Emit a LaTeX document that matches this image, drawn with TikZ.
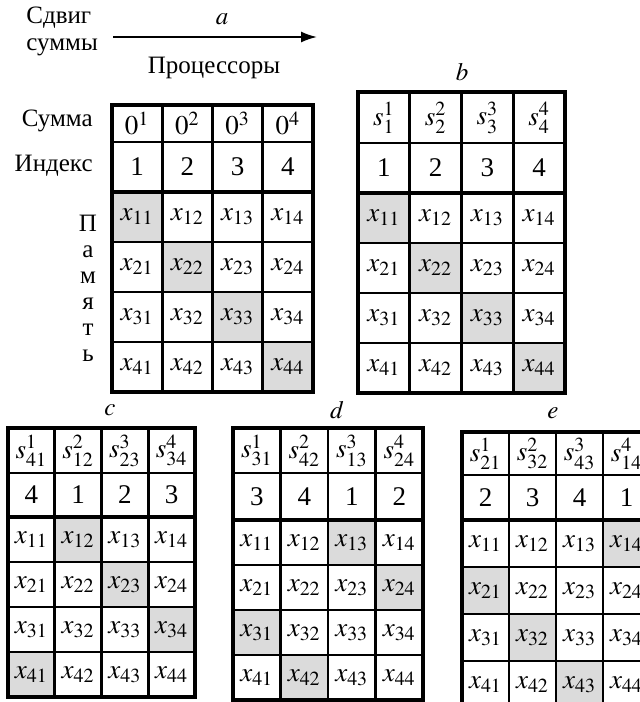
\documentclass[tikz,border=0pt]{standalone}
\usepackage{mathptmx}
\usepackage{fontspec}
\setmainfont{Liberation Serif}
\usetikzlibrary{positioning,arrows.meta}
\definecolor{Dots}{gray}{0.86}

\tikzset{
  cell/.style={rectangle, inner sep=0pt, outer sep=0pt, font=\fontsize{13.5}{15}\selectfont},
  outline/.style={line width=2pt, line join=miter},
  divide/.style={line width=1.8pt},
  vline/.style={line width=1.3pt},
  hline/.style={line width=0.9pt},
  tag/.style={inner sep=1pt, font=\fontsize{12.5}{14}\selectfont},
}

% name, left, top, column width, sum height, index height, memory height, shift, sums
\newcommand{\panel}[9]{%
  \foreach \hd [count=\col] in {#9} {
    \pgfmathsetmacro\cx{#2+(\col-0.5)*#4}
    \pgfmathtruncatemacro\ix{mod(\col-1-#8+8,4)+1}
    \node[cell, fill=white, minimum width=#4*0.5pt, minimum height=#5*0.5pt] (#1-s\col) at (\cx,{#3+#5/2}) {$\hd$};
    \node[cell, fill=white, minimum width=#4*0.5pt, minimum height=#6*0.5pt] (#1-i\col) at (\cx,{#3+#5+#6/2}) {\ix};
    \foreach \row in {1,...,4} {
      \pgfmathtruncatemacro\hit{mod(\col-\row-#8+8,4)==0}
      \ifnum\hit=1 \def\fc{Dots}\else\def\fc{white}\fi
      \node[cell, fill=\fc, minimum width=#4*0.5pt, minimum height=#7*0.5pt] (#1-\row\col) at (\cx,{#3+#5+#6+(\row-0.5)*#7}) {$x_{\row\col}$};
    }
  }
  \draw[hline] (#1-s1.south west) -- (#1-s4.south east);
  \foreach \row in {1,2,3} \draw[hline] (#1-\row1.south west) -- (#1-\row4.south east);
  \foreach \col in {1,2,3} \draw[vline] (#1-s\col.north east) -- (#1-4\col.south east);
  \draw[divide] (#1-i1.south west) -- (#1-i4.south east);
  \draw[outline] (#1-s1.north west) rectangle (#1-44.south east);
}

\begin{document}
\begin{tikzpicture}[x=0.5pt, y=-0.5pt]
\useasboundingbox (0,0) rectangle (640,702);
\clip (0,0) rectangle (640,702);

% header of panel a
\node[tag, anchor=west] (shift) at (24,18) {Сдвиг};
\node[tag, anchor=west] (sums) at (24,47) {суммы};
\coordinate (arL) at (113,37);
\coordinate (arR) at (317,37);
\draw[line width=0.9pt, -{Latex[length=8pt, width=5.5pt]}] (arL) -- (arR);
\node[tag] (la) at (222,19) {$a$};
\node[tag] (procs) at (214,68) {Процессоры};
\node[tag, anchor=east] (sumlab) at (95,121) {Сумма};
\node[tag, anchor=east] (idxlab) at (95,166) {Индекс};
\node[tag, align=center, font=\fontsize{12.5}{13}\selectfont] (memlab) at (88,288) {П\\а\\м\\я\\т\\ь};

% panel labels
\node[tag] (lb) at (462,72) {$b$};
\node[tag] (lc) at (110,410) {$c$};
\node[tag] (ld) at (337,410) {$d$};
\node[tag] (le) at (553,413) {$e$};

\panel{a}{112}{105}{50.25}{37}{50}{50}{0}{0^1,0^2,0^3,0^4}
\panel{b}{358}{92}{51.75}{51}{50}{50}{0}{s^1_1,s^2_2,s^3_3,s^4_4}
\panel{c}{8}{428}{46.75}{45}{44}{45}{1}{s^1_{41},s^2_{12},s^3_{23},s^4_{34}}
\panel{d}{233}{428}{47.5}{45}{47}{45}{2}{s^1_{31},s^2_{42},s^3_{13},s^4_{24}}
\panel{e}{462}{432}{47}{43}{45}{47}{3}{s^1_{21},s^2_{32},s^3_{43},s^4_{14}}
\end{tikzpicture}
\end{document}
